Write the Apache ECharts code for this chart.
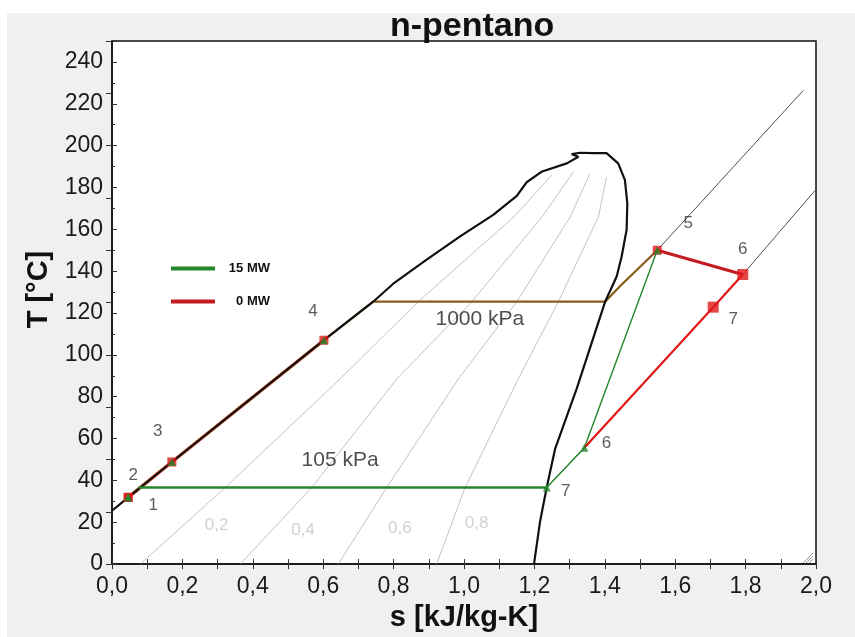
<!DOCTYPE html>
<html><head><meta charset="utf-8">
<script src="https://cdn.jsdelivr.net/npm/echarts@6/dist/echarts.min.js"></script>
<style>html,body{margin:0;padding:0;background:#fff}#chart{width:855px;height:637px}</style>
</head><body><div id="chart"></div>
<script>
// n-pentane T-s diagram: saturation dome, quality lines, two isobars and the ORC states
const stateNames = ['1', '2', '3', '4', '5', '6', '7'];
// state points [s kJ/kg-K, T °C]
const cycle15 = [[0.046, 31.9], [0.046, 31.9], [0.170, 48.8], [0.602, 107.0], [1.549, 150.0], [1.342, 55.6], [1.235, 36.6]];
const cycle0 = [[0.046, 31.9], [0.046, 31.9], [0.170, 48.8], [0.602, 107.0], [1.549, 150.0], [1.792, 138.4], [1.708, 122.8]];
const condenserLiquidS = 0.075;

// saturated liquid -> critical region -> saturated vapour
const satDome = [
  [0.000, 25.5], [0.046, 31.9], [0.170, 48.8], [0.602, 107.0], [0.742, 125.4], [0.799, 134.0],
  [0.894, 145.5], [0.989, 156.6], [1.083, 166.9], [1.150, 176.0], [1.178, 182.5], [1.220, 187.5],
  [1.292, 191.5], [1.325, 194.7], [1.306, 195.9], [1.330, 196.6], [1.367, 196.4], [1.405, 196.4],
  [1.438, 191.5], [1.457, 183.6], [1.464, 172.5], [1.462, 159.8], [1.448, 147.1], [1.434, 137.6],
  [1.401, 125.4], [1.320, 83.7], [1.259, 55.2], [1.235, 36.6], [1.216, 20.3], [1.200, 1.3], [1.199, 0]
];

// constant-quality lines
const quality02 = [[0.080, 0], [0.321, 36.5], [0.648, 88.5], [0.870, 125.4], [1.142, 166.0], [1.250, 186.0]];
const quality04 = [[0.364, 0], [0.567, 36.5], [0.809, 88.5], [1.022, 125.4], [1.222, 166.0], [1.311, 187.5]];
const quality06 = [[0.643, 0], [0.780, 36.5], [0.984, 88.5], [1.150, 125.4], [1.302, 166.0], [1.358, 186.7]];
const quality08 = [[0.922, 0], [1.003, 36.5], [1.154, 88.5], [1.268, 125.4], [1.382, 166.0], [1.405, 185.0]];
const qualityNames = ['0,2', '0,4', '0,6', '0,8'];
const qualityLabelAt = [[0.297, 18.7], [0.543, 16.3], [0.818, 17.1], [1.036, 19.5]];

// isobars
const isobar1000 = [[0.602, 107.0], [0.742, 125.4], [1.401, 125.4], [1.443, 132.8], [1.549, 150.0]];
const isobar1000Super = [[1.549, 150.0], [1.964, 226.4]];
const isobar105Super = [[1.235, 36.6], [1.342, 55.6], [1.708, 122.8], [1.792, 138.4], [1.997, 178.5]];
const pressureNames = ['105 kPa', '1000 kPa'];
const pressureLabelAt = [[0.648, 49.6], [1.045, 117.0]];

// axis ticks
const sMin = 0, sMax = 2, sStep = 0.2;
const tMin = 0, tMax = 250, tStep = 20, tStepRight = 25;

// label placement (pixel offsets from each state point)
const offsets15 = [[25, 8], [5, -22], [-14, -31], [-11, -29], [31, -27], [22, -4], [19, 4]];
const offsets0 = [null, null, null, null, null, [0, -25], [20, 12]];

const GREEN = '#23862a', RED = '#e01818', BROWN = '#8a5a1c';
const FONT = '"Liberation Sans", Arial, sans-serif';

const thin = (name, data, color, width, z) => ({
  name, type: 'line', data, symbol: 'none', silent: true, z: z || 2, smooth: false,
  itemStyle: { color }, lineStyle: { color, width }, animation: false
});

const pointLabels = (pts, offs, names) => pts.map((p, i) => ({
  value: p,
  label: offs[i] ? { show: true, formatter: names[i], offset: offs[i] } : { show: false }
}));

const textOnly = (name, at, texts, size, color, z) => ({
  name, type: 'scatter', z, silent: true, animation: false,
  symbol: 'circle', symbolSize: 1, itemStyle: { color: 'rgba(0,0,0,0)' },
  label: { show: true, position: 'inside', fontFamily: FONT, fontSize: size, color, formatter: p => texts[p.dataIndex] },
  data: at
});

const chart = echarts.init(document.getElementById('chart'), null, { renderer: 'canvas' });
chart.setOption({
  backgroundColor: '#ffffff',
  animation: false,
  title: {
    text: 'n-pentano', left: 390, top: 10, padding: 0,
    textStyle: { fontFamily: FONT, fontSize: 34, fontWeight: 'bold', color: '#111' }
  },
  graphic: [
    { type: 'rect', z: -10, silent: true, shape: { x: 7, y: 13, width: 848, height: 624 }, style: { fill: '#f0f0f0' } },
    { type: 'line', z: 100, silent: true, shape: { x1: 803, y1: 563, x2: 813, y2: 553 }, style: { stroke: '#999', lineWidth: 1 } },
    { type: 'line', z: 100, silent: true, shape: { x1: 806, y1: 563, x2: 813, y2: 556 }, style: { stroke: '#999', lineWidth: 1 } },
    { type: 'line', z: 100, silent: true, shape: { x1: 809, y1: 563, x2: 813, y2: 559 }, style: { stroke: '#999', lineWidth: 1 } }
  ],
  legend: {
    orient: 'vertical', left: 171, top: 262, padding: 0,
    data: ['15 MW', '0 MW'], icon: 'rect', itemWidth: 44, itemHeight: 4, itemGap: 20,
    selectedMode: false,
    formatter: n => '{a|' + n + '}',
    textStyle: {
      fontFamily: FONT, fontSize: 13, fontWeight: 'bold', color: '#111',
      rich: { a: { width: 50, align: 'right', fontFamily: FONT, fontSize: 13, fontWeight: 'bold' } }
    }
  },
  grid: { left: 112, top: 41, right: 39, bottom: 71, show: true, backgroundColor: '#ffffff', borderColor: '#111', borderWidth: 1.5 },
  xAxis: [{
    type: 'value', min: sMin, max: sMax, interval: sStep, position: 'bottom',
    name: 's [kJ/kg-K]', nameLocation: 'middle', nameGap: 38,
    nameTextStyle: { fontFamily: FONT, fontSize: 29, fontWeight: 'bold', color: '#111' },
    axisLine: { lineStyle: { color: '#111', width: 1.5 } },
    axisTick: { inside: true, length: 5, lineStyle: { color: '#333' } },
    minorTick: { show: true, splitNumber: 2, length: 5, lineStyle: { color: '#333' } },
    splitLine: { show: false },
    axisLabel: { margin: 11, fontFamily: FONT, fontSize: 23, color: '#1a1a1a', formatter: v => v.toFixed(1).replace('.', ',') }
  }, {
    type: 'value', min: sMin, max: sMax, interval: sStep, position: 'top',
    axisLine: { show: false },
    axisTick: { inside: true, length: 5, lineStyle: { color: '#333' } },
    minorTick: { show: true, splitNumber: 2, length: 5, lineStyle: { color: '#333' } },
    splitLine: { show: false }, axisLabel: { show: false }
  }],
  yAxis: [{
    type: 'value', min: tMin, max: tMax, interval: tStep, position: 'left',
    name: 'T [°C]', nameLocation: 'middle', nameGap: 56,
    nameTextStyle: { fontFamily: FONT, fontSize: 29, fontWeight: 'bold', color: '#111', padding: [0, 0, 0, 26] },
    axisLine: { lineStyle: { color: '#111', width: 1.5 } },
    axisTick: { inside: true, length: 5, lineStyle: { color: '#333' } },
    minorTick: { show: true, splitNumber: 2, length: 3, lineStyle: { color: '#333' } },
    splitLine: { show: false },
    axisLabel: { margin: 9, showMaxLabel: false, fontFamily: FONT, fontSize: 23, color: '#1a1a1a' }
  }, {
    type: 'value', min: tMin, max: tMax, interval: tStepRight, position: 'right',
    axisLine: { show: false },
    axisTick: { inside: true, length: 6, lineStyle: { color: '#333' } },
    splitLine: { show: false }, axisLabel: { show: false }
  }],
  series: [
    thin('x02', quality02, '#a9a9a9', 0.7),
    thin('x04', quality04, '#a9a9a9', 0.7),
    thin('x06', quality06, '#a9a9a9', 0.7),
    thin('x08', quality08, '#a9a9a9', 0.7),
    thin('p1000 super', isobar1000Super, '#222', 0.8),
    thin('p105 super', isobar105Super, '#222', 0.8),
    thin('p1000', isobar1000, BROWN, 2.2, 3),
    thin('pump heat', cycle0.slice(0, 4), '#d2461e', 3.4, 3),
    thin('saturation', satDome, '#111', 2.2, 4),
    thin('15 MW', [cycle15[6], [condenserLiquidS, cycle15[6][1]]], GREEN, 2.6, 5),
    thin('15 MW expansion', cycle15.slice(4), GREEN, 1.4, 5),
    thin('0 MW', [cycle0[4], cycle0[5]], '#c41a22', 3, 5),
    thin('0 MW cooling', [cycle0[5], cycle0[6], cycle15[5]], RED, 2.2, 5),
    {
      name: '0 MW points', type: 'scatter', z: 6, silent: true, animation: false,
      symbol: 'rect', symbolSize: (v, p) => (p.dataIndex >= 5 ? 11 : 9),
      itemStyle: { color: RED },
      label: { fontFamily: FONT, fontSize: 17, color: '#333', position: 'inside' },
      data: pointLabels(cycle0, offsets0, stateNames)
    },
    {
      name: '15 MW points', type: 'scatter', z: 7, silent: true, animation: false,
      symbol: 'triangle', symbolSize: 8,
      itemStyle: { color: GREEN },
      label: { fontFamily: FONT, fontSize: 17, color: '#333', position: 'inside' },
      data: pointLabels(cycle15, offsets15, stateNames)
    },
    textOnly('pressure labels', pressureLabelAt, pressureNames, 21, '#222', 8),
    textOnly('quality labels', qualityLabelAt, qualityNames, 17, '#c6c6c6', 8)
  ]
});
</script></body></html>
